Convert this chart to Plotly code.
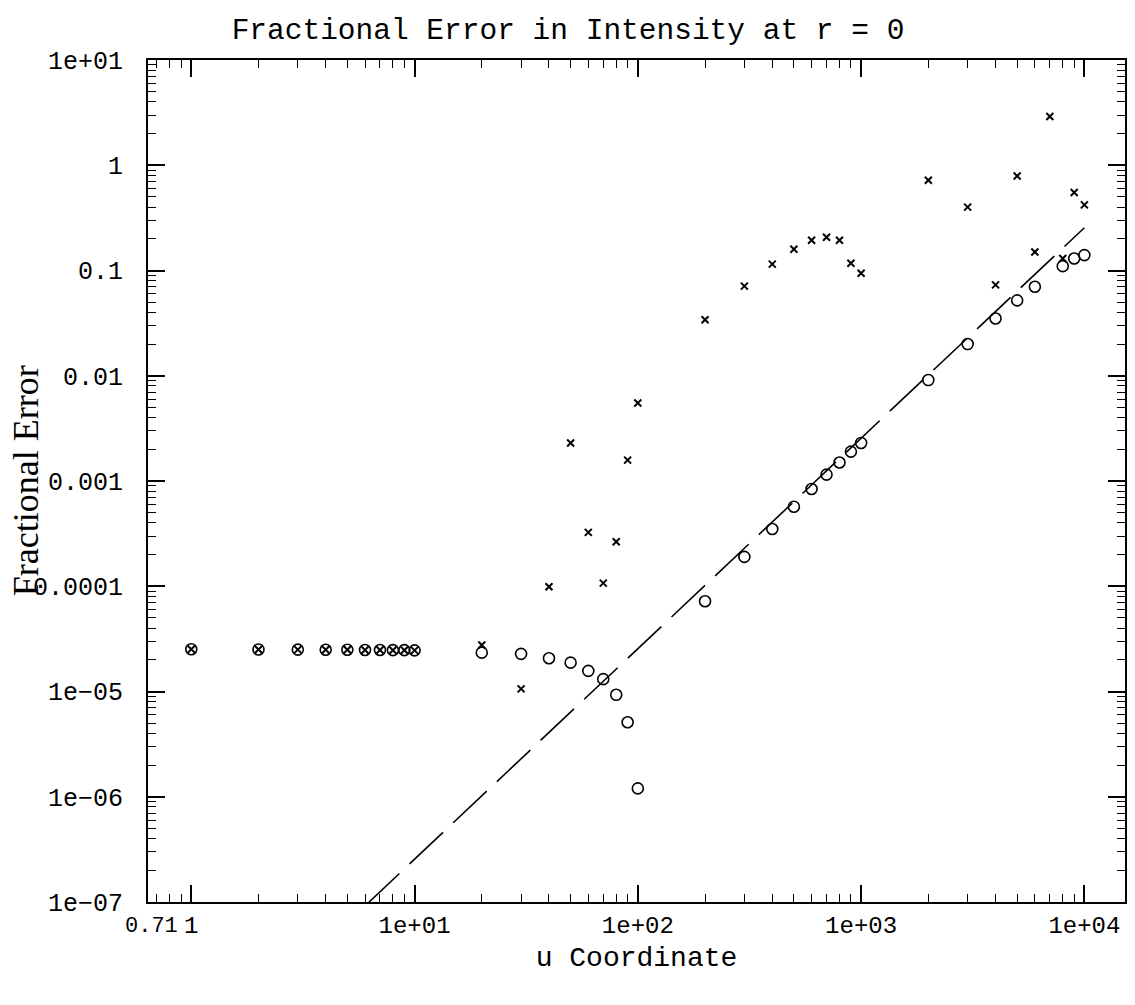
import plotly.graph_objects as go
import math

# ---- data ----
u_circ = [1, 2, 3, 4, 5, 6, 7, 8, 9, 10, 20, 30, 40, 50, 60, 70, 80, 90, 100,
          200, 300, 400, 500, 600, 700, 800, 900, 1000,
          2000, 3000, 4000, 5000, 6000, 8000, 9000, 10000]
err_circ = [2.52e-5, 2.51e-5, 2.5e-5, 2.49e-5, 2.49e-5, 2.48e-5, 2.48e-5, 2.47e-5, 2.47e-5, 2.46e-5,
            2.34e-5, 2.28e-5, 2.07e-5, 1.88e-5, 1.57e-5, 1.31e-5, 9.3e-6, 5.1e-6, 1.2e-6,
            7.2e-5, 1.9e-4, 3.5e-4, 5.7e-4, 8.4e-4, 1.15e-3, 1.5e-3, 1.9e-3, 2.3e-3,
            9.1e-3, 0.020, 0.035, 0.052, 0.070, 0.11, 0.13, 0.14]

u_x = [1, 2, 3, 4, 5, 6, 7, 8, 9, 10, 20, 30, 40, 50, 60, 70, 80, 90, 100,
       200, 300, 400, 500, 600, 700, 800, 900, 1000,
       2000, 3000, 4000, 5000, 6000, 7000, 8000, 9000, 10000]
err_x = [2.52e-5, 2.51e-5, 2.5e-5, 2.49e-5, 2.49e-5, 2.48e-5, 2.48e-5, 2.47e-5, 2.47e-5, 2.46e-5,
         2.77e-5, 1.06e-5, 9.9e-5, 2.3e-3, 3.25e-4, 1.07e-4, 2.65e-4, 1.58e-3, 5.5e-3,
         0.034, 0.071, 0.115, 0.159, 0.194, 0.207, 0.194, 0.117, 0.094,
         0.72, 0.40, 0.073, 0.79, 0.15, 2.9, 0.13, 0.55, 0.42]

u_line = [1, 10000]
err_line = [2.55e-9, 0.255]

x_min_label = 0.71          # lower-limit label of the u axis
x_tickvals = [1, 10, 100, 1000, 10000]
x_ticktext = ["1", "1e+01", "1e+02", "1e+03", "1e+04"]
y_tickvals = [1e-7, 1e-6, 1e-5, 1e-4, 1e-3, 1e-2, 1e-1, 1, 10]
y_ticktext = ["1e\u221207", "1e\u221206", "1e\u221205", "0.0001", "0.001", "0.01", "0.1", "1", "1e+01"]

# minor tick positions (2..9 in every decade)
x_minor = [m * 10 ** d for d in range(-1, 5) for m in range(2, 10) if 0.64 < m * 10 ** d < 15200]
y_minor = [m * 10 ** d for d in range(-7, 1) for m in range(2, 10)]

mono = "Liberation Mono"

fig = go.Figure()
fig.add_trace(go.Scatter(x=u_line, y=err_line, mode="lines",
                         line=dict(color="black", width=1.6, dash="46px,14px"),
                         hoverinfo="skip", showlegend=False))
fig.add_trace(go.Scatter(x=u_circ, y=err_circ, mode="markers",
                         marker=dict(symbol="circle-open", size=11, color="black",
                                     line=dict(width=1.6, color="black")),
                         showlegend=False))
fig.add_trace(go.Scatter(x=u_x, y=err_x, mode="markers",
                         marker=dict(symbol="x-thin-open", size=7, color="black",
                                     line=dict(width=2, color="black")),
                         showlegend=False))

axis_common = dict(
    showgrid=False, zeroline=False, showline=True, linecolor="black", linewidth=2,
    mirror="allticks", ticks="inside", ticklen=17, tickwidth=1.5, tickcolor="black",
)

fig.update_xaxes(type="log", range=[math.log10(0.64), math.log10(15200)],
                 tickmode="array", tickvals=x_tickvals, ticktext=x_ticktext,
                 tickangle=0, tickfont=dict(family=mono, size=24, color="black"),
                 minor=dict(tickmode="array", tickvals=x_minor, ticks="inside",
                            ticklen=8, tickwidth=1.2, tickcolor="black", showgrid=False),
                 title=dict(text="u Coordinate", font=dict(family=mono, size=28, color="black"),
                            standoff=8),
                 **axis_common)
fig.update_yaxes(type="log", range=[-7, 1],
                 tickmode="array", tickvals=y_tickvals, ticktext=y_ticktext,
                 tickfont=dict(family=mono, size=25, color="black"),
                 minor=dict(tickmode="array", tickvals=y_minor, ticks="inside",
                            ticklen=8, tickwidth=1.2, tickcolor="black", showgrid=False),
                 ticklabelstandoff=18,
                 **axis_common)

fig.update_layout(
    width=1135, height=1005,
    margin=dict(l=148, r=8, t=60, b=103),
    paper_bgcolor="white", plot_bgcolor="white",
    title=dict(text="Fractional Error in Intensity at r = 0",
               font=dict(family=mono, size=29.5, color="black"),
               x=568 / 1135, xanchor="center", xref="container",
               y=1 - 29 / 1005, yanchor="middle", yref="container"),
    showlegend=False,
    annotations=[
        dict(text="Fractional Error", textangle=-90,
             font=dict(family="Liberation Serif", size=36, color="black"),
             xref="paper", yref="paper", x=(26 - 148) / 979, y=0.5,
             xanchor="center", yanchor="middle", showarrow=False),
        dict(text=f"{x_min_label:g}", font=dict(family=mono, size=22, color="black"),
             xref="x", yref="paper", x=math.log10(x_min_label), y=-24 / 842,
             xanchor="center", yanchor="middle", xshift=-7, showarrow=False),
    ],
)

fig.write_html("out.html")
